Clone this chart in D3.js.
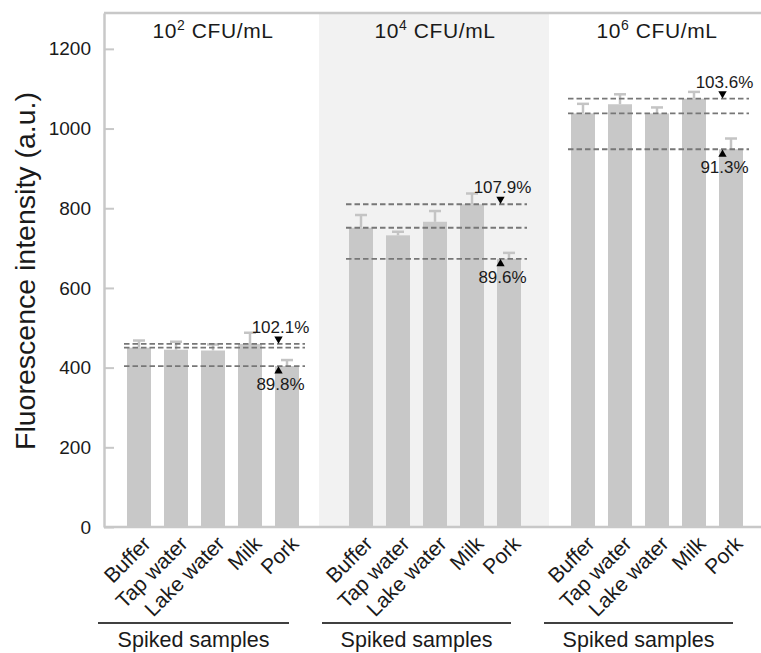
<!DOCTYPE html>
<html>
<head>
<meta charset="utf-8">
<script src="https://cdn.jsdelivr.net/npm/d3@7"></script>
<style>
  body { margin: 0; background: #fff; }
  text { font-family: "Liberation Sans", Arial, sans-serif; fill: #1a1a1a; }
</style>
</head>
<body>
<div id="chart"></div>
<script>
// sample names and concentrations
var samples = ["Buffer", "Tap water", "Lake water", "Milk", "Pork"];
var concExponents = ["2", "4", "6"];

// fluorescence intensity for each concentration group
var values1e2 = [450, 445, 443, 459.5, 404];
var values1e4 = [751, 732, 766, 810, 673];
var values1e6 = [1038, 1061, 1038, 1075, 948];

// upper error bars
var errors1e2 = [18, 20, 15, 28, 15];
var errors1e4 = [32, 9, 27, 27, 15];
var errors1e6 = [24, 25, 15, 17, 27];

// recovery labels
var upperRecovery = ["102.1%", "107.9%", "103.6%"];
var lowerRecovery = ["89.8%", "89.6%", "91.3%"];

var yTicks = [0, 200, 400, 600, 800, 1000, 1200];

var svgWidth = 761;
var svgHeight = 653;
var plotLeft = 104, plotTop = 13, plotBottom = 527;

var svg = d3.select("#chart")
  .append("svg")
  .attr("width", svgWidth)
  .attr("height", svgHeight);

var groups = [values1e2, values1e4, values1e6].map(function(vals, g) {
  var errs = [errors1e2, errors1e4, errors1e6][g];
  return {
    exp: concExponents[g],
    up: upperRecovery[g],
    low: lowerRecovery[g],
    bars: vals.map(function(v, j) {
      return { name: samples[j], value: v, err: errs[j], slot: g * 6 + j };
    })
  };
});

// scales: one slot per bar, one empty slot between groups
var xScale = d3.scaleLinear().domain([0, 16]).range([139, 731]);
var yScale = d3.scaleLinear().domain([0, 1290]).range([plotBottom, plotTop]);
var barWidth = 24;

// shaded middle panel
svg.append("rect")
  .attr("x", xScale(8) - 116)
  .attr("y", plotTop)
  .attr("width", 230)
  .attr("height", plotBottom - plotTop)
  .attr("fill", "#f2f2f2");

// frame lines
svg.append("line")
  .attr("x1", plotLeft).attr("x2", svgWidth)
  .attr("y1", plotTop).attr("y2", plotTop)
  .attr("stroke", "#c8c8c8").attr("stroke-width", 2.5);
svg.append("line")
  .attr("x1", plotLeft).attr("x2", svgWidth)
  .attr("y1", plotBottom).attr("y2", plotBottom)
  .attr("stroke", "#c8c8c8").attr("stroke-width", 2.5);

// y axis, ticks pointing inward
var leftAxis = d3.axisLeft(yScale)
  .tickValues(yTicks)
  .tickFormat(d3.format("d"))
  .tickSizeInner(-10)
  .tickSizeOuter(0)
  .tickPadding(13);

var yAxis = svg.append("g")
  .attr("transform", `translate(${plotLeft}, 0)`)
  .call(leftAxis);
yAxis.select(".domain").attr("stroke", "#c8c8c8").attr("stroke-width", 2.5);
yAxis.selectAll(".tick line").attr("stroke", "#c8c8c8").attr("stroke-width", 2);
yAxis.selectAll(".tick text")
  .style("font-size", "19px")
  .style("font-family", "Liberation Sans, Arial, sans-serif")
  .style("fill", "#1a1a1a");

// y axis title
svg.append("text")
  .attr("transform", "translate(35, 271) rotate(-90)")
  .attr("text-anchor", "middle")
  .style("font-size", "28.5px")
  .text("Fluorescence intensity (a.u.)");

var allBars = groups.reduce(function(acc, g) { return acc.concat(g.bars); }, []);

// error bars (upper only)
var errG = svg.append("g").attr("stroke", "#c4c4c4").attr("stroke-width", 2.5);
errG.selectAll("line.stem")
  .data(allBars)
  .enter()
  .append("line")
  .attr("x1", d => xScale(d.slot)).attr("x2", d => xScale(d.slot))
  .attr("y1", d => yScale(d.value)).attr("y2", d => yScale(d.value + d.err));
errG.selectAll("line.cap")
  .data(allBars)
  .enter()
  .append("line")
  .attr("x1", d => xScale(d.slot) - 6).attr("x2", d => xScale(d.slot) + 6)
  .attr("y1", d => yScale(d.value + d.err)).attr("y2", d => yScale(d.value + d.err));

// bars
svg.append("g").selectAll("rect")
  .data(allBars)
  .enter()
  .append("rect")
  .attr("x", d => xScale(d.slot) - barWidth / 2)
  .attr("y", d => yScale(d.value))
  .attr("width", barWidth)
  .attr("height", d => yScale(0) - yScale(d.value))
  .attr("fill", "#c8c8c8");

// sample labels, rotated
svg.append("g").selectAll("text")
  .data(allBars)
  .enter()
  .append("text")
  .attr("text-anchor", "end")
  .style("font-size", "21px")
  .attr("transform", d => `translate(${xScale(d.slot) + 13}, 545) rotate(-45)`)
  .text(d => d.name);

groups.forEach(function(g, gi) {
  var first = g.bars[0], last = g.bars[4];
  var vals = g.bars.map(d => d.value);
  var hi = d3.max(vals), lo = d3.min(vals);
  var markX = xScale(last.slot) - 8.5;

  // dashed reference lines: buffer, max, min
  [first.value, hi, lo].forEach(function(v) {
    svg.append("line")
      .attr("x1", xScale(first.slot) - 15)
      .attr("x2", xScale(last.slot) + 18)
      .attr("y1", yScale(v)).attr("y2", yScale(v))
      .attr("stroke", "#777")
      .attr("stroke-width", 1.8)
      .attr("stroke-dasharray", "5.5,3");
  });

  // triangles
  svg.append("path")
    .attr("d", d3.symbol(d3.symbolTriangle).size(30))
    .attr("transform", `translate(${markX}, ${yScale(hi) - 5}) rotate(180)`)
    .attr("fill", "#000");
  svg.append("path")
    .attr("d", d3.symbol(d3.symbolTriangle).size(30))
    .attr("transform", `translate(${markX}, ${yScale(lo) + 5})`)
    .attr("fill", "#000");

  // recovery labels
  svg.append("text")
    .attr("x", markX + 2)
    .attr("y", yScale(hi) - 11)
    .attr("text-anchor", "middle")
    .style("font-size", "17px")
    .text(g.up);
  svg.append("text")
    .attr("x", markX + 2)
    .attr("y", yScale(lo) + 24)
    .attr("text-anchor", "middle")
    .style("font-size", "17px")
    .text(g.low);

  // concentration title
  var title = svg.append("text")
    .attr("x", xScale(first.slot + 2))
    .attr("y", 38)
    .attr("text-anchor", "middle")
    .style("font-size", "21px")
    .style("letter-spacing", "0.6px");
  title.append("tspan").text("10");
  title.append("tspan").style("font-size", "14px").attr("dy", -8).text(g.exp);
  title.append("tspan").attr("dy", 8).text(" CFU/mL");

  // group bracket
  var lx1 = gi === 0 ? 98 : xScale(first.slot) - 39;
  var lx2 = xScale(last.slot) + 2;
  svg.append("line")
    .attr("x1", lx1).attr("x2", lx2)
    .attr("y1", 623).attr("y2", 623)
    .attr("stroke", "#000").attr("stroke-width", 1.5);
  svg.append("text")
    .attr("x", (lx1 + lx2) / 2)
    .attr("y", 647)
    .attr("text-anchor", "middle")
    .style("font-size", "21.5px")
    .text("Spiked samples");
});
</script>
</body>
</html>
